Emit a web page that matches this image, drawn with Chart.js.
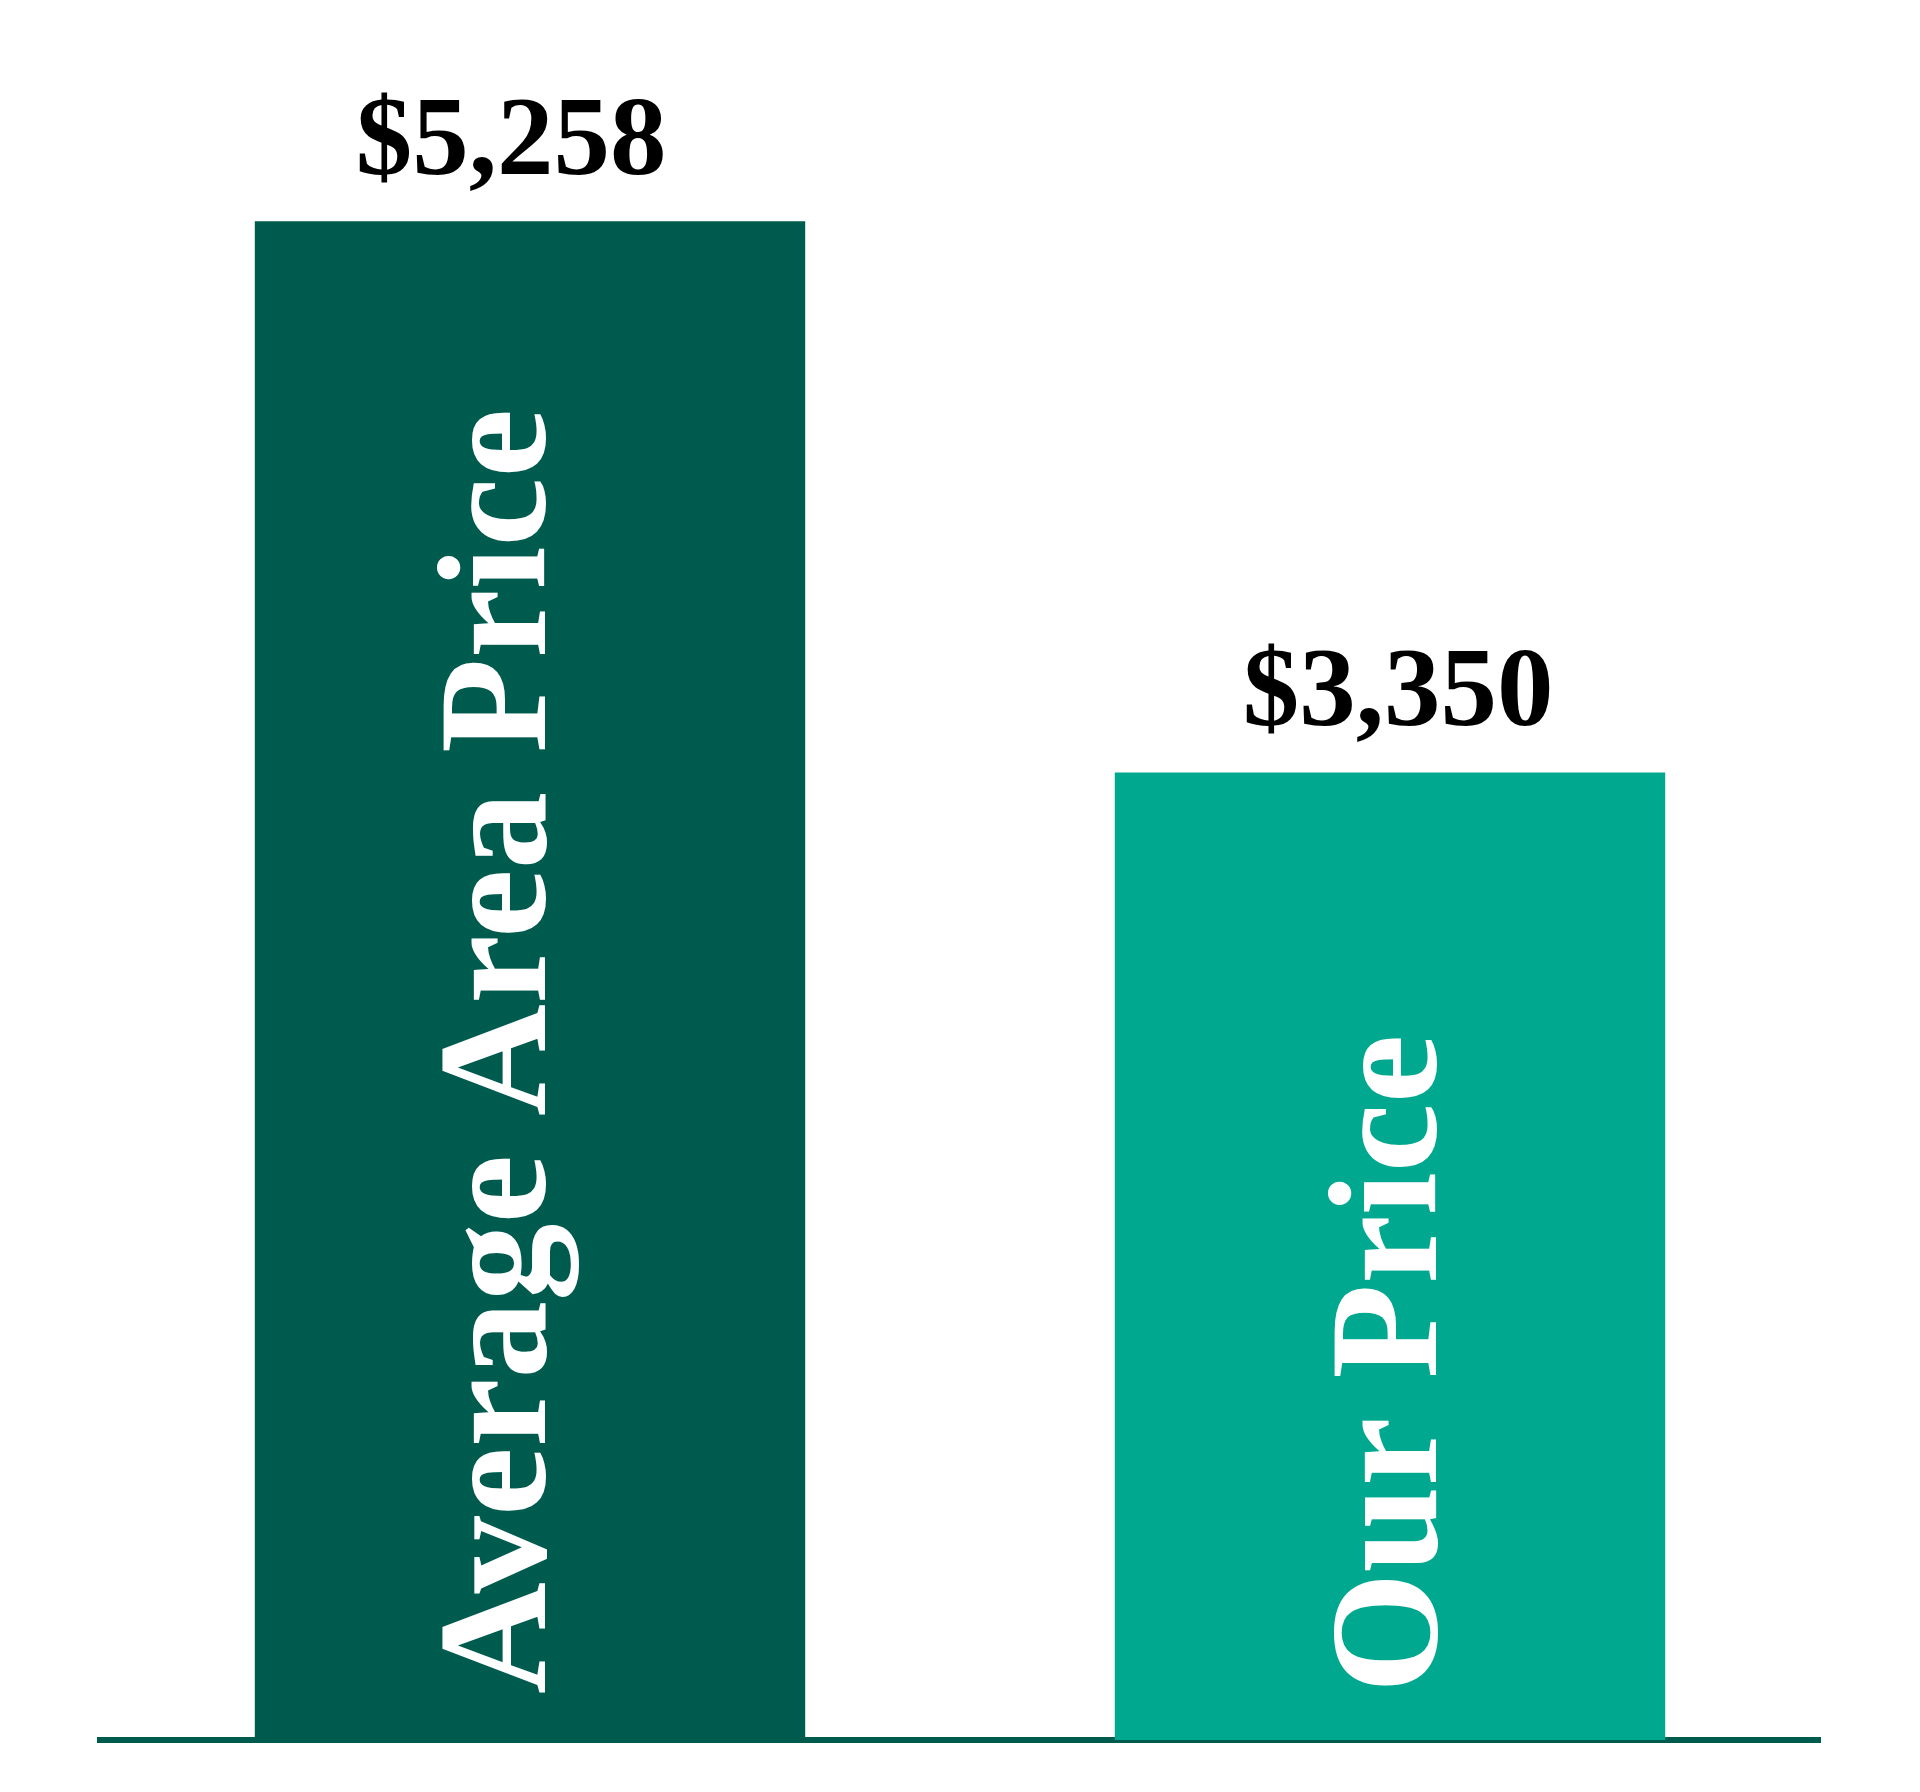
<!DOCTYPE html>
<html>
<head>
<meta charset="utf-8">
<script src="https://cdn.jsdelivr.net/npm/chart.js@4/dist/chart.umd.min.js"></script>
<style>
  html, body { margin: 0; padding: 0; background: #ffffff; }
  #wrap { width: 1920px; height: 1792px; }
</style>
</head>
<body>
<div id="wrap"><canvas id="c" width="1920" height="1792"></canvas></div>
<script>
// ---- data ----
const categories = ["Average Area Price", "Our Price"];
const prices = [5258, 3350];
const valueLabels = ["$5,258", "$3,350"];
const barColors = ["#005B4F", "#00A88F"];

const SERIF = '"Liberation Serif", "Times New Roman", serif';

const labelPlugin = {
  id: 'barTexts',
  afterDatasetsDraw(chart) {
    const ctx = chart.ctx;
    const meta = chart.getDatasetMeta(0);
    const catShift = [[15, 46], [46, 47]];
    const valShift = [-19, 8];
    meta.data.forEach((bar, i) => {
      ctx.save();
      ctx.fillStyle = '#000000';
      ctx.font = 'bold 113px ' + SERIF;
      ctx.textAlign = 'center';
      ctx.textBaseline = 'alphabetic';
      ctx.fillText(valueLabels[i], bar.x + valShift[i], bar.y - 47);
      ctx.restore();
      ctx.save();
      ctx.fillStyle = '#ffffff';
      ctx.font = 'bold 155px ' + SERIF;
      ctx.translate(bar.x + catShift[i][0], bar.base - catShift[i][1]);
      ctx.rotate(-Math.PI / 2);
      ctx.textAlign = 'left';
      ctx.textBaseline = 'alphabetic';
      ctx.fillText(categories[i], 0, 0);
      ctx.restore();
    });
  }
};

new Chart(document.getElementById('c'), {
  type: 'bar',
  data: {
    labels: categories,
    datasets: [{
      data: prices,
      backgroundColor: barColors,
      borderWidth: 0,
      barPercentage: 0.64,
      categoryPercentage: 1.0
    }]
  },
  options: {
    responsive: false,
    animation: false,
    devicePixelRatio: 1,
    layout: { padding: { left: 100, right: 100, top: 7, bottom: 52 } },
    plugins: { legend: { display: false }, tooltip: { enabled: false } },
    scales: {
      x: {
        z: 1,
        ticks: { display: false },
        grid: { display: false, drawTicks: false },
        border: { display: true, color: '#005B4F', width: 6 }
      },
      y: {
        display: false,
        min: 0,
        max: 6000,
        grid: { display: false }
      }
    }
  },
  plugins: [labelPlugin]
});
</script>
</body>
</html>
